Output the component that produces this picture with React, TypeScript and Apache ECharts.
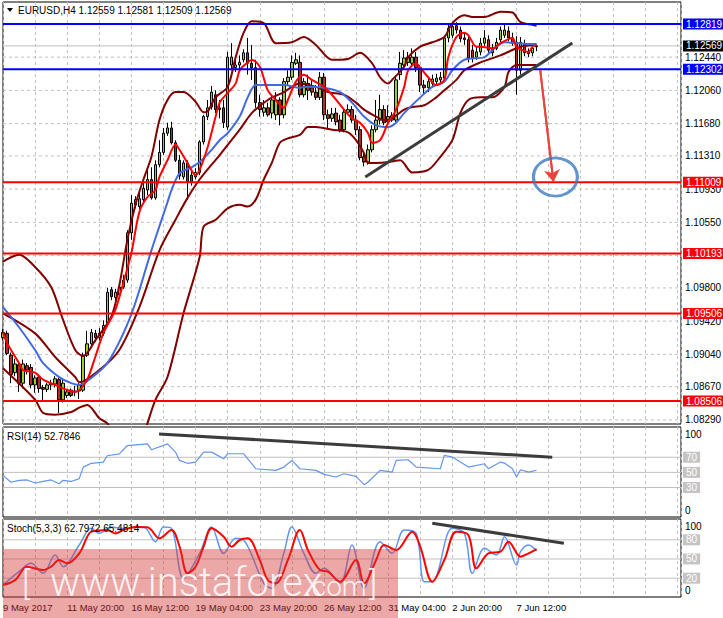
import React, { useEffect, useRef } from "react";
import * as echarts from "echarts";

// ---------- DATA ----------
const symbolTitle = "EURUSD,H4";
const lastBarOHLC = ["1.12559", "1.12581", "1.12509", "1.12569"];
const rsiTitle = "RSI(14) 52.7846";
const stochTitle = "Stoch(5,3,3) 62.7972 65.4814";

const totalSlots = 170;

// candles: [open, close, low, high]
const candles: number[][] = [
  [1.0923, 1.0929, 1.0920, 1.0933], [1.0928, 1.0905, 1.0903, 1.0931], [1.0903, 1.0881, 1.0871, 1.0906],
  [1.0883, 1.0893, 1.0879, 1.0899], [1.0892, 1.0871, 1.0861, 1.0895], [1.0871, 1.0893, 1.0865, 1.0898],
  [1.0891, 1.0886, 1.0881, 1.0894], [1.0889, 1.0869, 1.0865, 1.0893], [1.0869, 1.0877, 1.0860, 1.0880],
  [1.0878, 1.0865, 1.0860, 1.0881], [1.0866, 1.0864, 1.0852, 1.0869], [1.0864, 1.0869, 1.0861, 1.0871],
  [1.0869, 1.0871, 1.0863, 1.0875], [1.0870, 1.0876, 1.0866, 1.0879], [1.0875, 1.0852, 1.0837, 1.0877],
  [1.0852, 1.0871, 1.0849, 1.0875], [1.0857, 1.0861, 1.0854, 1.0864], [1.0863, 1.0857, 1.0855, 1.0865],
  [1.0861, 1.0862, 1.0856, 1.0868], [1.0862, 1.0869, 1.0853, 1.0871], [1.0863, 1.0903, 1.0861, 1.0906],
  [1.0903, 1.0916, 1.0901, 1.0931], [1.0916, 1.0929, 1.0914, 1.0933], [1.0928, 1.0923, 1.0918, 1.0932],
  [1.0923, 1.0928, 1.0920, 1.0934], [1.0928, 1.0937, 1.0925, 1.0943], [1.0940, 1.0975, 1.0937, 1.0980],
  [1.0978, 1.0970, 1.0966, 1.0981], [1.0969, 1.0975, 1.0966, 1.0979], [1.0972, 1.0981, 1.0970, 1.0986],
  [1.0981, 1.0989, 1.0979, 1.0995], [1.0989, 1.1043, 1.0986, 1.1046], [1.1043, 1.1077, 1.1035, 1.1086],
  [1.1075, 1.1081, 1.1071, 1.1085], [1.1073, 1.1082, 1.1070, 1.1092], [1.1081, 1.1094, 1.1077, 1.1101],
  [1.1092, 1.1104, 1.1086, 1.1115], [1.1104, 1.1083, 1.1081, 1.1118], [1.1083, 1.1121, 1.1081, 1.1126],
  [1.1121, 1.1135, 1.1118, 1.1149], [1.1135, 1.1157, 1.1132, 1.1163], [1.1157, 1.1163, 1.1154, 1.1169],
  [1.1163, 1.1146, 1.1144, 1.1170], [1.1146, 1.1126, 1.1124, 1.1149], [1.1126, 1.1108, 1.1104, 1.1132],
  [1.1107, 1.1123, 1.1104, 1.1126], [1.1123, 1.1101, 1.1081, 1.1126], [1.1109, 1.1101, 1.1097, 1.1115],
  [1.1107, 1.1112, 1.1104, 1.1117], [1.1112, 1.1147, 1.1109, 1.1149], [1.1147, 1.1176, 1.1144, 1.1178],
  [1.1176, 1.1186, 1.1172, 1.1195], [1.1187, 1.1204, 1.1184, 1.1211], [1.1201, 1.1184, 1.1180, 1.1206],
  [1.1186, 1.1184, 1.1174, 1.1195], [1.1186, 1.1169, 1.1163, 1.1195], [1.1164, 1.1244, 1.1161, 1.1250],
  [1.1235, 1.1244, 1.1229, 1.1260], [1.1232, 1.1235, 1.1227, 1.1243], [1.1235, 1.1238, 1.1229, 1.1246],
  [1.1241, 1.1249, 1.1238, 1.1253], [1.1249, 1.1237, 1.1224, 1.1266], [1.1237, 1.1232, 1.1218, 1.1258],
  [1.1232, 1.1192, 1.1186, 1.1241], [1.1192, 1.1184, 1.1176, 1.1201], [1.1181, 1.1186, 1.1176, 1.1195],
  [1.1186, 1.1178, 1.1176, 1.1192], [1.1180, 1.1195, 1.1174, 1.1201], [1.1178, 1.1195, 1.1172, 1.1204],
  [1.1195, 1.1178, 1.1166, 1.1198], [1.1178, 1.1216, 1.1174, 1.1220], [1.1216, 1.1221, 1.1212, 1.1229],
  [1.1221, 1.1238, 1.1218, 1.1246], [1.1237, 1.1241, 1.1235, 1.1249], [1.1238, 1.1201, 1.1198, 1.1246],
  [1.1201, 1.1216, 1.1198, 1.1220], [1.1214, 1.1206, 1.1195, 1.1224], [1.1209, 1.1204, 1.1200, 1.1218],
  [1.1204, 1.1198, 1.1195, 1.1212], [1.1198, 1.1221, 1.1195, 1.1227], [1.1221, 1.1178, 1.1172, 1.1226],
  [1.1178, 1.1174, 1.1163, 1.1184], [1.1174, 1.1179, 1.1170, 1.1186], [1.1180, 1.1170, 1.1166, 1.1186],
  [1.1172, 1.1161, 1.1158, 1.1178], [1.1161, 1.1181, 1.1158, 1.1186], [1.1181, 1.1184, 1.1178, 1.1190],
  [1.1184, 1.1172, 1.1169, 1.1188], [1.1172, 1.1161, 1.1155, 1.1178], [1.1161, 1.1129, 1.1126, 1.1165],
  [1.1130, 1.1124, 1.1119, 1.1135], [1.1124, 1.1138, 1.1121, 1.1144], [1.1138, 1.1161, 1.1135, 1.1166],
  [1.1161, 1.1172, 1.1158, 1.1195], [1.1172, 1.1184, 1.1167, 1.1201], [1.1184, 1.1169, 1.1166, 1.1189],
  [1.1170, 1.1176, 1.1166, 1.1189], [1.1172, 1.1177, 1.1170, 1.1181], [1.1172, 1.1218, 1.1170, 1.1222],
  [1.1224, 1.1237, 1.1218, 1.1250], [1.1235, 1.1243, 1.1232, 1.1252], [1.1238, 1.1244, 1.1234, 1.1250],
  [1.1237, 1.1244, 1.1234, 1.1254], [1.1244, 1.1232, 1.1227, 1.1250], [1.1232, 1.1212, 1.1204, 1.1235],
  [1.1212, 1.1209, 1.1201, 1.1218], [1.1209, 1.1216, 1.1204, 1.1220], [1.1214, 1.1219, 1.1209, 1.1224],
  [1.1216, 1.1220, 1.1212, 1.1225], [1.1218, 1.1221, 1.1214, 1.1227], [1.1220, 1.1266, 1.1218, 1.1269],
  [1.1266, 1.1277, 1.1261, 1.1283], [1.1269, 1.1279, 1.1266, 1.1284], [1.1280, 1.1275, 1.1271, 1.1284],
  [1.1275, 1.1265, 1.1261, 1.1279], [1.1266, 1.1264, 1.1258, 1.1272], [1.1264, 1.1243, 1.1238, 1.1267],
  [1.1252, 1.1243, 1.1238, 1.1258], [1.1244, 1.1250, 1.1241, 1.1256], [1.1250, 1.1260, 1.1246, 1.1266],
  [1.1260, 1.1266, 1.1257, 1.1275], [1.1264, 1.1252, 1.1249, 1.1269], [1.1254, 1.1249, 1.1245, 1.1259],
  [1.1254, 1.1261, 1.1252, 1.1266], [1.1264, 1.1275, 1.1260, 1.1279], [1.1269, 1.1275, 1.1266, 1.1281],
  [1.1274, 1.1266, 1.1262, 1.1279], [1.1266, 1.1260, 1.1257, 1.1272], [1.1261, 1.1229, 1.1201, 1.1268],
  [1.1229, 1.1261, 1.1224, 1.1267], [1.1259, 1.1249, 1.1245, 1.1264], [1.1250, 1.1248, 1.1244, 1.1254],
  [1.1249, 1.1254, 1.1245, 1.1258], [1.12559, 1.12569, 1.12509, 1.12581],
];

const bbUpper: number[][] = [
  [0, 1.1010], [4, 1.1018], [8, 1.1004], [12, 1.0981], [15, 1.0943], [18, 1.0909], [20, 1.0902], [23, 1.0920],
  [27, 1.0947], [29, 1.0983], [31, 1.1035], [33, 1.1075], [35, 1.1104], [37, 1.1130], [39, 1.1172], [41, 1.1195],
  [43, 1.1204], [45, 1.1204], [48, 1.1193], [50, 1.1181], [51, 1.1182], [53, 1.1198], [56, 1.1210], [58, 1.1244],
  [60, 1.1272], [62, 1.1285], [65, 1.1283], [68, 1.1260], [72, 1.1261], [75, 1.1267], [78, 1.1258], [82, 1.1241],
  [86, 1.1242], [89, 1.1249], [92, 1.1237], [94, 1.1221], [96, 1.1214], [97, 1.1218], [100, 1.1233], [101, 1.1244],
  [104, 1.1256], [107, 1.1261], [110, 1.1267], [112, 1.1283], [115, 1.1292], [117, 1.1290], [120, 1.1290],
  [124, 1.1296], [127, 1.1295], [129, 1.1284], [132, 1.1281], [133, 1.1280],
];
const bbMiddle: number[][] = [
  [0, 1.0951], [8, 1.0928], [13, 1.0901], [18, 1.0878], [19, 1.0872], [24, 1.0886], [29, 1.0909], [34, 1.0958],
  [39, 1.1023], [43, 1.1058], [46, 1.1083], [49, 1.1104], [54, 1.1132], [59, 1.1161], [62, 1.1180], [66, 1.1195],
  [70, 1.1204], [74, 1.1214], [78, 1.1210], [81, 1.1204], [85, 1.1201], [88, 1.1192], [90, 1.1184], [93, 1.1176],
  [95, 1.1172], [97, 1.1174], [100, 1.1184], [102, 1.1187], [105, 1.1189], [108, 1.1198], [110, 1.1206],
  [113, 1.1218], [115, 1.1229], [119, 1.1238], [124, 1.1246], [129, 1.1256], [133, 1.1258],
];
const bbLower: number[][] = [
  [0, 1.0888], [8, 1.0852], [10, 1.0837], [13, 1.0835], [17, 1.0838], [19, 1.0843], [21, 1.0846], [24, 1.0831],
  [26, 1.0825], [29, 1.0805], [32, 1.0795], [35, 1.0810], [36, 1.0825], [38, 1.0852], [41, 1.0878], [45, 1.0951],
  [49, 1.1015], [50, 1.1050], [53, 1.1058], [56, 1.1071], [59, 1.1075], [61, 1.1073], [63, 1.1081], [65, 1.1104],
  [67, 1.1123], [69, 1.1146], [71, 1.1151], [74, 1.1155], [76, 1.1164], [78, 1.1164], [82, 1.1161], [86, 1.1158],
  [88, 1.1149], [90, 1.1134], [91, 1.1123], [93, 1.1123], [96, 1.1124], [99, 1.1126], [102, 1.1112], [106, 1.1115],
  [109, 1.1130], [112, 1.1149], [114, 1.1180], [116, 1.1195], [119, 1.1198], [122, 1.1198], [125, 1.1210],
  [126, 1.1227], [128, 1.1235], [133, 1.1235],
];
const maBlue: number[][] = [
  [0, 1.0958], [4, 1.0935], [8, 1.0909], [10, 1.0894], [14, 1.0878], [17, 1.0871], [19, 1.0869], [22, 1.0877],
  [26, 1.0894], [30, 1.0928], [33, 1.0963], [37, 1.1023], [41, 1.1078], [42, 1.1092], [44, 1.1111], [47, 1.1118],
  [49, 1.1124], [52, 1.1138], [54, 1.1149], [56, 1.1157], [59, 1.1176], [61, 1.1198], [63, 1.1212], [65, 1.1212],
  [70, 1.1212], [74, 1.1209], [76, 1.1210], [80, 1.1209], [84, 1.1204], [87, 1.1192], [90, 1.1176], [93, 1.1166],
  [96, 1.1164], [98, 1.1169], [100, 1.1180], [104, 1.1198], [107, 1.1210], [110, 1.1216], [112, 1.1229],
  [115, 1.1241], [120, 1.1244], [122, 1.1252], [125, 1.1261], [128, 1.1260], [132, 1.1259], [133, 1.1259],
];
const maRed: number[][] = [
  [0, 1.0929], [1, 1.0917], [4, 1.0894], [5, 1.0886], [8, 1.0883], [10, 1.0875], [13, 1.0869], [15, 1.0865],
  [18, 1.0861], [19, 1.0863], [21, 1.0875], [23, 1.0901], [25, 1.0928], [28, 1.0955], [30, 1.0986], [32, 1.1020],
  [34, 1.1067], [36, 1.1084], [38, 1.1092], [39, 1.1107], [41, 1.1126], [43, 1.1144], [44, 1.1138], [46, 1.1123],
  [48, 1.1109], [49, 1.1115], [51, 1.1141], [53, 1.1176], [54, 1.1192], [56, 1.1203], [58, 1.1214], [59, 1.1229],
  [61, 1.1238], [62, 1.1241], [64, 1.1233], [65, 1.1220], [66, 1.1206], [68, 1.1195], [70, 1.1186], [71, 1.1195],
  [73, 1.1216], [75, 1.1224], [77, 1.1218], [80, 1.1210], [82, 1.1201], [85, 1.1184], [87, 1.1174], [89, 1.1169],
  [91, 1.1157], [92, 1.1146], [94, 1.1149], [96, 1.1169], [98, 1.1184], [100, 1.1210], [101, 1.1229], [103, 1.1237],
  [104, 1.1232], [106, 1.1221], [108, 1.1212], [110, 1.1218], [111, 1.1244], [113, 1.1267], [115, 1.1272],
  [116, 1.1269], [118, 1.1256], [119, 1.1256], [122, 1.1254], [124, 1.1260], [127, 1.1266], [128, 1.1256],
  [131, 1.1250], [132, 1.1256], [133, 1.1258],
];

const priceTicks = [1.1244, 1.1206, 1.1168, 1.1131, 1.1093, 1.1055, 1.1017, 1.098, 1.0942, 1.0904, 1.0867, 1.0829];
const blueLevels = [1.12819, 1.12302];
const redLevels = [1.11009, 1.10193, 1.09506, 1.08506];
const currentPrice = 1.12569;

const priceTrend = [[90.3, 1.11069], [141.9, 1.12602]];
const arrowPath = [[133.9, 1.12293], [137.2, 1.11012]];
const targetCircle = [[137.7, 1.11069]];

const rsiPoints: number[][] = [
  [0, 46], [2, 37], [4, 39.5], [6, 40], [8, 36], [10, 38], [12, 40], [14, 35], [15, 39.5], [17, 38], [19, 41.7],
  [20, 57], [22, 62], [25, 63.6], [26, 72], [29, 74.5], [31, 85.5], [36, 87.7], [37, 80], [41, 87.7], [43, 76.8],
  [44, 65.8], [46, 62], [48, 63.6], [50, 76.8], [52, 76.8], [55, 68], [56, 74.6], [60, 74.6], [63, 54.8],
  [68, 52.6], [70, 57], [72, 65.8], [74, 54.8], [78, 52.6], [80, 47.4], [83, 43.9], [85, 48.2], [88, 44.7],
  [90, 33.8], [91, 37.3], [94, 52.6], [97, 50.4], [98, 65.8], [101, 66.7], [103, 57], [109, 54.8], [110, 72.4],
  [112, 70.2], [116, 57], [120, 61.4], [121, 54.8], [124, 63.6], [125, 62.3], [127, 54.8], [128, 43.9],
  [129, 53.5], [131, 50.4], [133, 52.8],
];
const rsiLevels = [70, 50, 30];
const rsiBounds = [100, 0];
const rsiTrend = [[38.9, 100.9], [136.9, 70.1]];

const stochMain: number[][] = [
  [0, 9.4], [4, 30.2], [7, 43.2], [10, 27.6], [13, 56.2], [15, 38], [19, 71.9], [22, 97.9], [24, 90], [27, 100],
  [30, 97.9], [35, 100], [38, 77], [40, 100], [42, 97.9], [45, 19.8], [49, 58.8], [52, 100], [55, 58.8],
  [58, 82.3], [60, 79.7], [65, 12], [67, 4.2], [70, 58.8], [72, 100], [75, 58.8], [78, 27.6], [80, 35.4],
  [84, 12], [87, 71.9], [90, 4.2], [94, 77], [97, 58.8], [100, 95.3], [103, 90], [105, 14.6], [107, 14.6],
  [112, 97.9], [115, 90], [117, 27.6], [120, 66.7], [123, 56.2], [125, 84.9], [128, 40.6], [129, 61.5],
  [131, 71.9], [133, 62.8],
];
const stochSignal: number[][] = [
  [0, 9.4], [3, 17], [6, 38], [10, 32.8], [12, 38], [14, 48.4], [16, 43.2], [19, 58.8], [21, 84.9], [22, 92.7],
  [26, 95.3], [28, 90], [30, 95.3], [33, 100], [36, 99.5], [39, 82.3], [42, 95.3], [44, 69.3], [46, 27.6],
  [48, 38], [50, 69.3], [52, 97.9], [55, 84.9], [57, 69.3], [59, 79.7], [61, 82.3], [64, 48.4], [66, 17.2],
  [68, 12], [71, 48.4], [74, 95.3], [76, 64], [79, 32.8], [81, 30.2], [84, 14.6], [88, 48.4], [90, 12],
  [93, 48.4], [95, 71.9], [98, 64], [102, 92.7], [104, 69.3], [107, 14.6], [110, 48.4], [113, 92.7],
  [116, 87.5], [118, 35.4], [121, 58.8], [124, 61.5], [126, 77], [129, 53.6], [131, 58.8], [133, 65.5],
];
const stochLevels = [80, 50, 20];
const stochBounds = [100, 0];
const stochTrend = [[107, 105.8], [139.8, 74.5]];

const dateTicks = [
  "9 May 2017", "11 May 20:00", "16 May 12:00", "19 May 04:00", "23 May 20:00",
  "26 May 12:00", "31 May 04:00", "2 Jun 20:00", "7 Jun 12:00",
];
const barsPerDateTick = 16;
const barsPerGridLine = 8;

const watermarkParts = ["[", "www.instaforex", ".com", "]"];

// ---------- STYLE ----------
const FONT = '"Liberation Sans", Arial, sans-serif';
const GRID_DASH = { color: "#c0c0c0", type: [3, 3], width: 1 };

function buildOption() {
  const categories = Array.from({ length: totalSlots }, (_, i) => String(i));
  const lastSlot = totalSlots - 1;
  const gridBase = {
    left: 3, right: 42, show: true, borderColor: "#000", borderWidth: 1,
    backgroundColor: "#fff", containLabel: false, outerBoundsMode: "none",
  };
  const valueX = (gridIndex: number, labels: boolean) => ({
    type: "value", gridIndex, min: 0, max: lastSlot, interval: barsPerGridLine,
    axisLine: { show: false }, axisTick: { show: false },
    splitLine: { show: true, lineStyle: GRID_DASH },
    axisLabel: labels
      ? {
          show: true, align: "left", color: "#000", fontSize: 9.5, fontFamily: FONT, margin: 5,
          showMinLabel: true, showMaxLabel: false, hideOverlap: false,
          formatter: (v: number) =>
            v % barsPerDateTick === 0 ? dateTicks[v / barsPerDateTick] ?? "" : "",
        }
      : { show: false },
  });
  const hiddenY = (gridIndex: number, min: number, max: number) => ({
    type: "value", gridIndex, min, max, position: "right",
    axisLine: { show: false }, axisTick: { show: false }, axisLabel: { show: false }, splitLine: { show: false },
  });
  const labelStyle = (text: string, extra: any = {}) => ({
    show: true, formatter: text, color: "#000", fontSize: 10, fontFamily: FONT, distance: 4, ...extra,
  });
  const boxStyle = (text: string, bg: string) =>
    labelStyle(text, { color: "#fff", backgroundColor: bg, padding: [1, 3, 0, 3], distance: 2 });
  // horizontal line drawn across a pane at value v, with its right-hand label
  const hLine = (v: number, xi: number, yi: number, lineStyle: any, label: any, z: number) => ({
    type: "line", xAxisIndex: xi, yAxisIndex: yi, data: [[0, v], [lastSlot, v]],
    symbol: "none", showSymbol: false, silent: true, z, clip: false,
    lineStyle, endLabel: label ?? { show: false },
  });
  const line = (data: number[][], color: string, width: number, z: number, xi = 1, yi = 0, smooth: any = 0.3) => ({
    type: "line", xAxisIndex: xi, yAxisIndex: yi, data, symbol: "none", showSymbol: false,
    smooth, silent: true, z, lineStyle: { color, width }, clip: true,
  });
  const invisible = { color: "rgba(0,0,0,0)", width: 1 };
  const silverSolid = { color: "#c0c0c0", type: "solid", width: 1 };

  const paneLevels = (xi: number, yi: number, levels: number[], bounds: number[]) => [
    ...levels.map((v) => hLine(v, xi, yi, silverSolid, boxStyle(String(v), "#c4c4c4"), 1)),
    ...bounds.map((v) => hLine(v, xi, yi, invisible, labelStyle(String(v)), 1)),
  ];

  return {
    animation: false,
    backgroundColor: "#fff",
    textStyle: { fontFamily: FONT },
    grid: [
      { ...gridBase, top: 2, height: 422 },
      { ...gridBase, top: 427, height: 90 },
      { ...gridBase, top: 519, height: 78 },
    ],
    xAxis: [
      { type: "category", gridIndex: 0, data: categories, boundaryGap: false, show: false },
      valueX(0, false),
      valueX(1, false),
      valueX(2, true),
    ],
    yAxis: [hiddenY(0, 1.08243, 1.13071), hiddenY(1, -9, 110), hiddenY(2, -9.4, 112.5)],
    graphic: [
      { type: "polygon", shape: { points: [[7, 8], [13, 8], [10, 12]] }, style: { fill: "#000" }, z: 50 },
      {
        type: "text", x: 18, y: 5, z: 50,
        style: { text: [symbolTitle, ...lastBarOHLC].join(" "), fill: "#000", font: `10px ${FONT}`, verticalAlign: "top" },
      },
      { type: "text", x: 7, y: 431, z: 50, style: { text: rsiTitle, fill: "#000", font: `10px ${FONT}`, verticalAlign: "top" } },
      { type: "text", x: 7, y: 523, z: 50, style: { text: stochTitle, fill: "#000", font: `10px ${FONT}`, verticalAlign: "top" } },
      { type: "rect", shape: { x: 3, y: 549, width: 395, height: 69 }, style: { fill: "rgba(212,55,55,0.44)" }, z: 60 },
      { type: "text", x: 22, y: 583, z: 61, style: { text: watermarkParts[0], fill: "rgba(255,255,255,0.85)", font: "300 34px Roboto", verticalAlign: "middle" } },
      { type: "text", x: 50, y: 582, z: 61, style: { text: watermarkParts[1], fill: "rgba(255,255,255,0.85)", font: "300 40px Roboto", verticalAlign: "middle" } },
      { type: "text", x: 305, y: 586, z: 61, style: { text: watermarkParts[2], fill: "rgba(255,255,255,0.85)", font: "300 28px Roboto", verticalAlign: "middle" } },
      { type: "text", x: 369, y: 583, z: 61, style: { text: watermarkParts[3], fill: "rgba(255,255,255,0.85)", font: "300 34px Roboto", verticalAlign: "middle" } },
    ],
    series: [
      // main pane dashed grid and price scale labels
      ...priceTicks.map((v) => hLine(v, 1, 0, GRID_DASH, labelStyle(v.toFixed(5)), 1)),
      hLine(currentPrice, 1, 0, silverSolid, boxStyle(currentPrice.toFixed(5), "#000"), 1),
      {
        type: "candlestick", xAxisIndex: 0, yAxisIndex: 0, data: candles, barWidth: 3, z: 2, clip: true,
        silent: true,
        itemStyle: { color: "#9acd32", color0: "#b32d25", borderColor: "#000", borderColor0: "#000", borderWidth: 1 },
      },
      line(bbUpper, "#800000", 2, 3),
      line(bbMiddle, "#800000", 2, 3),
      line(bbLower, "#800000", 2, 3),
      line(maBlue, "#4169e1", 2, 4),
      line(maRed, "#ff0000", 2, 5),
      // support / resistance levels
      ...blueLevels.map((v) =>
        hLine(v, 1, 0, { color: "#0000ff", type: "solid", width: 2 }, boxStyle(v.toFixed(5), "#0000ff"), 6)),
      ...redLevels.map((v) =>
        hLine(v, 1, 0, { color: "#ff0000", type: "solid", width: 2 }, boxStyle(v.toFixed(5), "#ff0000"), 6)),
      line(priceTrend, "#3c3c3c", 3, 7, 1, 0, false),
      {
        type: "line", xAxisIndex: 1, yAxisIndex: 0, data: arrowPath, symbol: "none", silent: true, z: 8,
        lineStyle: { color: "#e8453c", width: 2 },
        markLine: {
          silent: true, symbol: ["none", "arrow"], symbolSize: 12, animation: false,
          label: { show: false },
          lineStyle: { color: "#e8453c", width: 2, type: "solid" },
          data: [[{ coord: arrowPath[0] }, { coord: arrowPath[1] }]],
        },
      },
      {
        type: "scatter", xAxisIndex: 1, yAxisIndex: 0, data: targetCircle, symbol: "circle",
        symbolSize: [44, 38], silent: true, z: 8,
        itemStyle: { color: "rgba(0,0,0,0)", borderColor: "#3b7bc2", borderWidth: 3 },
      },
      // RSI pane
      ...paneLevels(2, 1, rsiLevels, rsiBounds),
      line(rsiPoints, "#6495ed", 1.2, 3, 2, 1, false),
      line(rsiTrend, "#3c3c3c", 3, 4, 2, 1, false),
      // Stochastic pane
      ...paneLevels(3, 2, stochLevels, stochBounds),
      line(stochMain, "#6495ed", 1.5, 3, 3, 2, 0.35),
      line(stochSignal, "#ff0000", 2, 4, 3, 2, 0.35),
      line(stochTrend, "#3c3c3c", 3, 5, 3, 2, false),
    ],
  };
}

export default function App() {
  const ref = useRef<HTMLDivElement>(null);
  useEffect(() => {
    if (!ref.current) return;
    const chart = echarts.init(ref.current, undefined, { renderer: "svg" });
    chart.setOption(buildOption() as any);
    return () => chart.dispose();
  }, []);
  return (
    <div
      ref={ref}
      style={{ position: "absolute", left: 0, top: 0, width: 723, height: 618, background: "#fff" }}
    />
  );
}
